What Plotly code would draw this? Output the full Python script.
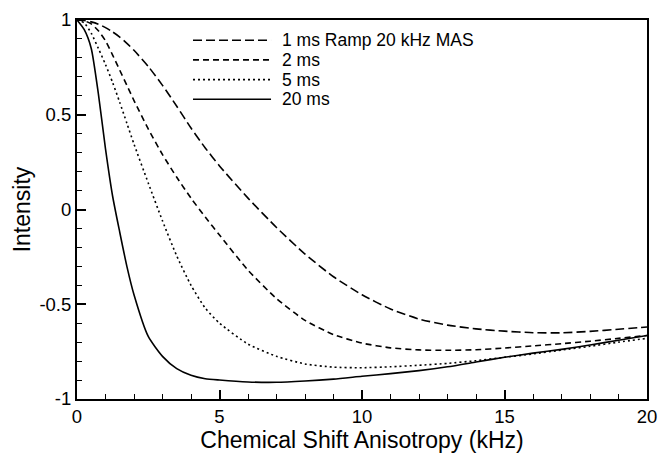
import plotly.graph_objects as go

# Chemical shift anisotropy (kHz)
csa = [0, 0.25, 0.5, 0.75, 1, 1.25, 1.5, 1.75, 2, 2.5, 3, 3.5, 4, 4.5, 5,
       6, 7, 8, 9, 10, 11, 12, 13, 14, 15, 16, 17, 18, 19, 20]

ramp_1ms = [1.0, 0.997, 0.99, 0.978, 0.96, 0.937, 0.91, 0.877, 0.84, 0.755, 0.655, 0.545, 0.43, 0.325, 0.23,
            0.06, -0.095, -0.235, -0.355, -0.45, -0.525, -0.578, -0.61, -0.63, -0.642,
            -0.65, -0.651, -0.643, -0.632, -0.62]
ms_2 = [1.0, 0.996, 0.98, 0.943, 0.89, 0.815, 0.735, 0.655, 0.575, 0.425, 0.29, 0.17, 0.06, -0.04, -0.135,
        -0.32, -0.47, -0.585, -0.66, -0.705, -0.73, -0.741, -0.743, -0.74, -0.731,
        -0.72, -0.708, -0.695, -0.68, -0.665]
ms_5 = [1.0, 0.985, 0.93, 0.85, 0.765, 0.67, 0.565, 0.455, 0.345, 0.14, -0.06, -0.245, -0.40, -0.52, -0.60,
        -0.71, -0.775, -0.815, -0.832, -0.835, -0.83, -0.822, -0.812, -0.798, -0.78,
        -0.762, -0.742, -0.722, -0.70, -0.68]
ms_20 = [1.0, 0.95, 0.85, 0.61, 0.32, 0.07, -0.12, -0.30, -0.45, -0.67, -0.775, -0.84, -0.875, -0.893, -0.90,
         -0.91, -0.912, -0.905, -0.895, -0.88, -0.866, -0.85, -0.83, -0.805, -0.78,
         -0.758, -0.738, -0.715, -0.69, -0.665]

series_names = ["1 ms Ramp 20 kHz MAS", "2 ms", "5 ms", "20 ms"]
series_values = [ramp_1ms, ms_2, ms_5, ms_20]
series_dash = ["9px,4px", "6px,4px", "2px,3px", "solid"]

x_tickvals = [0, 5, 10, 15, 20]
x_ticktext = ["0", "5", "10", "15", "20"]
y_tickvals = [1, 0.5, 0, -0.5, -1]
y_ticktext = ["1", "0.5", "0", "-0.5", "-1"]

FONT = "Liberation Sans, Arial, sans-serif"

fig = go.Figure()
for name, vals, dash in zip(series_names, series_values, series_dash):
    fig.add_trace(go.Scatter(
        x=csa, y=vals, mode="lines", name=name,
        line=dict(color="black", width=1.6, dash=dash, shape="spline", smoothing=0.6),
        showlegend=False,
    ))

# legend drawn manually (long line samples as in the reference)
leg_y = [0.9467, 0.8947, 0.8427, 0.7907]
for name, dash, yy in zip(series_names, series_dash, leg_y):
    fig.add_shape(type="line", xref="paper", yref="paper",
                  x0=0.2035, x1=0.3404, y0=yy, y1=yy,
                  line=dict(color="black", width=1.6, dash=dash))
    fig.add_annotation(xref="paper", yref="paper", x=0.358, y=yy,
                       text=name, showarrow=False, xanchor="left", yanchor="middle",
                       borderpad=0,
                       font=dict(family=FONT, size=17.5, color="black"))

axis_common = dict(
    showline=True, linecolor="black", linewidth=2, mirror=True,
    ticks="inside", ticklen=9, tickwidth=1.5, tickcolor="black",
    showgrid=False, zeroline=False, automargin=False,
    tickfont=dict(family=FONT, size=18.5, color="black"),
)

fig.update_xaxes(
    range=[0, 20], tickvals=x_tickvals, ticktext=x_ticktext,
    minor=dict(dtick=1, ticklen=5, tickwidth=1, ticks="inside", tickcolor="black", showgrid=False),
    title=dict(text="Chemical Shift Anisotropy (kHz)", font=dict(family=FONT, size=23, color="black"), standoff=4),
    **axis_common,
)
fig.update_yaxes(
    range=[-1, 1], tickvals=y_tickvals, ticktext=y_ticktext,
    minor=dict(dtick=0.1, tick0=0, ticklen=5, tickwidth=1, ticks="inside", tickcolor="black", showgrid=False),
    title=dict(text="Intensity", font=dict(family=FONT, size=23, color="black"), standoff=2),
    **axis_common,
)

fig.update_layout(
    width=660, height=454,
    margin=dict(l=77, r=13, t=20, b=55),
    paper_bgcolor="white", plot_bgcolor="white",
    font=dict(family=FONT, color="black"),
)

fig.write_html("out.html")
